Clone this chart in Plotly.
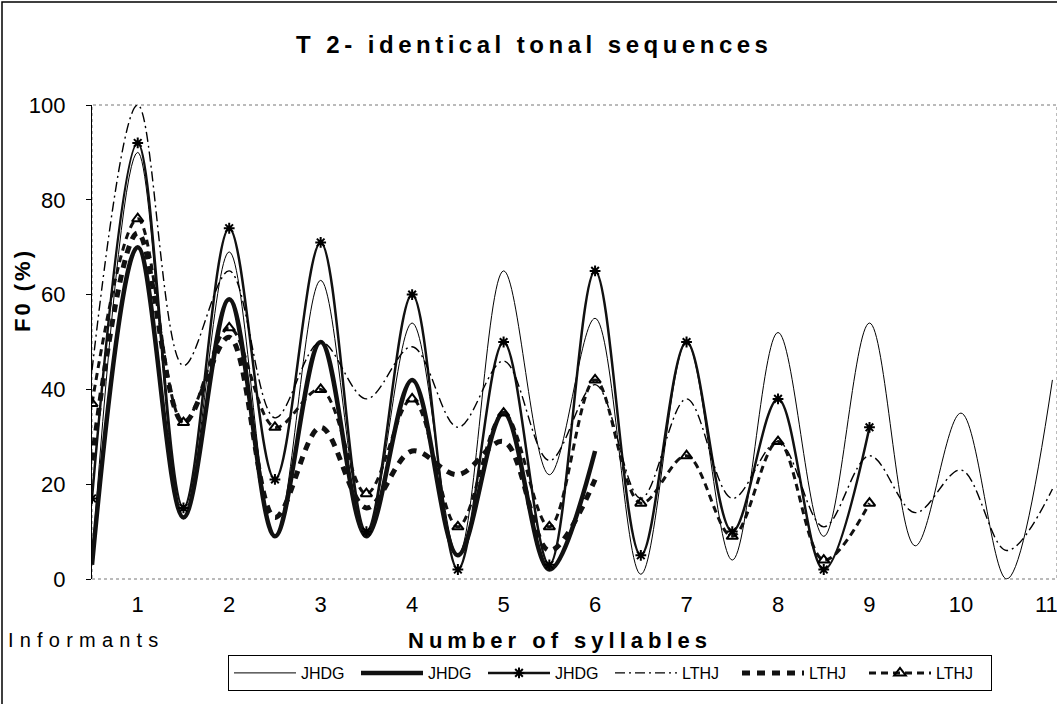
import plotly.graph_objects as go

# x positions (syllables, half steps)
x_all = [0.5, 1, 1.5, 2, 2.5, 3, 3.5, 4, 4.5, 5, 5.5, 6, 6.5, 7, 7.5, 8, 8.5, 9, 9.5, 10, 10.5, 11]

jhdg_thin  = [4, 90, 13, 69, 9, 63, 10, 54, 5, 65, 22, 55, 1, 50, 4, 52, 9, 54, 7, 35, 0, 42]
jhdg_thick = [3, 70, 13, 59, 9, 50, 9, 42, 5, 35, 2, 27]
jhdg_star  = [17, 92, 15, 74, 21, 71, 10, 60, 2, 50, 3, 65, 5, 50, 10, 38, 2, 32]
lthj_dashdot = [44, 100, 45, 65, 34, 50, 38, 49, 32, 46, 25, 41, 17, 38, 17, 29, 11, 26, 14, 23, 6, 19]
lthj_thickdash = [25, 73, 33, 51, 13, 32, 15, 27, 22, 29, 6, 21]
lthj_tri   = [37, 76, 33, 53, 32, 40, 18, 38, 11, 35, 11, 42, 16, 26, 9, 29, 4, 16]

tick_vals = list(range(1, 12))
tick_text = [str(v) for v in tick_vals]
y_ticks = [0, 20, 40, 60, 80, 100]

NARROW = "Liberation Sans Narrow, Arial Narrow, Liberation Sans, Arial, sans-serif"

fig = go.Figure()

fig.add_trace(go.Scatter(x=x_all[:len(jhdg_thin)], y=jhdg_thin, name="JHDG", mode="lines",
                         line=dict(color="black", width=1, shape="spline", smoothing=1.0)))
fig.add_trace(go.Scatter(x=x_all[:len(jhdg_thick)], y=jhdg_thick, name="JHDG", mode="lines",
                         line=dict(color="#111111", width=4.5, shape="spline", smoothing=1.0)))
fig.add_trace(go.Scatter(x=x_all[:len(jhdg_star)], y=jhdg_star, name="JHDG", mode="lines+markers",
                         line=dict(color="#111111", width=2.5, shape="spline", smoothing=1.0),
                         marker=dict(symbol="asterisk-open", size=9, color="black",
                                     line=dict(color="black", width=2))))
fig.add_trace(go.Scatter(x=x_all[:len(lthj_dashdot)], y=lthj_dashdot, name="LTHJ", mode="lines",
                         line=dict(color="black", width=1.4, dash="10px,4px,2px,4px",
                                   shape="spline", smoothing=1.0)))
fig.add_trace(go.Scatter(x=x_all[:len(lthj_thickdash)], y=lthj_thickdash, name="LTHJ", mode="lines",
                         line=dict(color="#111111", width=5, dash="8px,7px",
                                   shape="spline", smoothing=1.0)))
fig.add_trace(go.Scatter(x=x_all[:len(lthj_tri)], y=lthj_tri, name="LTHJ", mode="lines+markers",
                         line=dict(color="#111111", width=3, dash="7px,5px",
                                   shape="spline", smoothing=1.0),
                         marker=dict(symbol="triangle-up-open", size=10, color="black",
                                     line=dict(color="black", width=2))))

W, H = 1057, 704
L, R, T, B = 92, 0, 105, 125
pw = W - L - R
ph = H - T - B

def px(xp):
    return (xp - L) / pw

def py(yp):
    return (H - B - yp) / ph

# last tick label sits at the clipped right edge: draw it right-aligned so it stays visible
axis_ticks = tick_vals[:-1]
axis_text = tick_text[:-1]

fig.update_layout(
    width=W, height=H,
    margin=dict(l=L, r=R, t=T, b=B, pad=0, autoexpand=False),
    paper_bgcolor="white", plot_bgcolor="white",
    font=dict(family=NARROW, color="black"),
    showlegend=True,
    legend=dict(orientation="h", x=px(228), y=py(655), xanchor="left", yanchor="top",
                bordercolor="black", borderwidth=1, bgcolor="white",
                font=dict(family=NARROW, size=16, color="black"),
                itemwidth=62, entrywidth=50, entrywidthmode="pixels",
                traceorder="normal"),
    xaxis=dict(range=[0.5, 11.05], tickvals=axis_ticks, ticktext=axis_text,
               showgrid=False, zeroline=False, showline=False, ticks="",
               tickfont=dict(family=NARROW, size=22, color="black"), ticklabelstandoff=10),
    yaxis=dict(range=[0, 100], tickvals=y_ticks, showgrid=False, zeroline=False,
               showline=True, linecolor="black", linewidth=1.2, ticks="outside",
               ticklen=5, tickcolor="black",
               tickfont=dict(family=NARROW, size=22, color="black"), ticklabelstandoff=16),
    shapes=[
        dict(type="rect", xref="paper", yref="paper", x0=0, x1=1, y0=0, y1=1,
             line=dict(color="#777777", width=1, dash="dot"), layer="below"),
        dict(type="rect", xref="paper", yref="paper", x0=px(2), x1=px(1080), y0=py(720), y1=py(2),
             line=dict(color="black", width=1.5)),
    ],
    annotations=[
        dict(text=tick_text[-1], xref="x", yref="paper", x=tick_vals[-1], y=py(604),
             xanchor="right", yanchor="middle", xshift=8, showarrow=False,
             font=dict(family=NARROW, size=22, color="black")),
        dict(text='<b><span style="letter-spacing:4.5px">T 2- identical tonal sequences</span></b>',
             xref="paper", yref="paper", x=px(534), y=py(45), xanchor="center", yanchor="middle",
             showarrow=False, font=dict(family=NARROW, size=24, color="black")),
        dict(text='<b><span style="letter-spacing:3px">F0 (%)</span></b>',
             xref="paper", yref="paper", x=px(22), y=py(290), xanchor="center", yanchor="middle",
             textangle=-90, showarrow=False, font=dict(family=NARROW, size=22, color="black")),
        dict(text='<b><span style="letter-spacing:5px">Number of syllables</span></b>',
             xref="paper", yref="paper", x=px(560), y=py(640), xanchor="center", yanchor="middle",
             showarrow=False, font=dict(family=NARROW, size=22, color="black")),
        dict(text='<span style="letter-spacing:6.2px">Informants</span>',
             xref="paper", yref="paper", x=px(6), y=py(640), xanchor="left", yanchor="middle",
             showarrow=False, font=dict(family=NARROW, size=20, color="black")),
    ],
)

fig.write_html("out.html", post_script="document.body.style.margin='0';",
               config={"displayModeBar": False})
